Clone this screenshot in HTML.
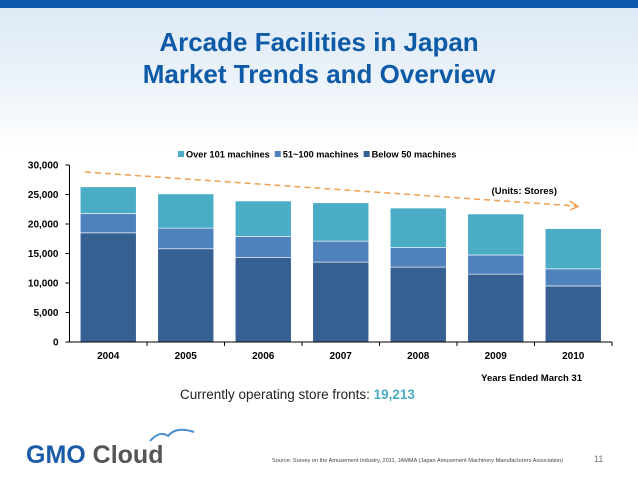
<!DOCTYPE html>
<html><head><meta charset="utf-8"><style>
body{margin:0;width:638px;height:479px;overflow:hidden;font-family:"Liberation Sans",sans-serif;background:#fff;position:relative}
#bg{position:absolute;left:0;top:0;width:638px;height:150px;background:linear-gradient(180deg,#dbe8f5 0%,#eef4fa 60%,#fff 100%)}
#band{position:absolute;left:0;top:0;width:638px;height:8px;background:#0b5aab}
#title{position:absolute;left:0;width:638px;top:26px;text-align:center;color:#0d5aa7;font-weight:bold;font-size:26px;line-height:32px}
svg{position:absolute;left:0;top:0}
</style></head><body>
<div id="bg"></div>
<div id="band"></div>
<div id="title">Arcade Facilities in Japan<br>Market Trends and Overview</div>
<svg id="chart" width="638" height="479"></svg>
<script>
const categories=["2004","2005","2006","2007","2008","2009","2010"];
const below50=[18500,15800,14350,13550,12700,11500,9500];
const mid51to100=[3300,3500,3550,3550,3300,3250,2900];
const over101=[4500,5800,6000,6500,6700,6950,6813];
const yTicks=[0,5000,10000,15000,20000,25000,30000];
const seriesNames=["Over 101 machines","51~100 machines","Below 50 machines"];
const colors=["#4bacc6","#4f81bd","#366092"];
const ns="http://www.w3.org/2000/svg";
const svg=document.getElementById('chart');
const x0=69.5,x1=612,y0=342,y1=165,yMax=30000;
const bw=(x1-x0)/categories.length;
const barW=56;
const y=v=>y0-(v/yMax)*(y0-y1);
const xc=i=>x0+bw*(i+0.5);
function mk(t,a){const e=document.createElementNS(ns,t);for(const k in a)e.setAttribute(k,a[k]);svg.appendChild(e);return e;}
let e;
yTicks.forEach(t=>{
 e=mk('text',{x:x0-11,y:y(t)+3.5,'text-anchor':'end','font-size':'10','font-weight':'bold',fill:'#000'});e.textContent=t.toLocaleString('en-US');
 
 
 e=mk('line',{x1:x0-4,x2:x0,y1:y(t),y2:y(t),stroke:'#000'});
 
 
});
categories.forEach((c,i)=>{
 const segs=[[0,below50[i],colors[2],'below-50'],[below50[i],below50[i]+mid51to100[i],colors[1],'51-100'],[below50[i]+mid51to100[i],below50[i]+mid51to100[i]+over101[i],colors[0],'over-101']];
 segs.forEach(s=>{
  e=mk('rect',{x:xc(i)-barW/2,width:barW,y:y(s[1]),height:y(s[0])-y(s[1]),fill:s[2],stroke:'#fff','stroke-width':'0.6'});
  
  
 });
 e=mk('text',{x:xc(i),y:359,'text-anchor':'middle','font-size':'10','font-weight':'bold'});e.textContent=c;
 
 
 e=mk('line',{x1:x0+bw*(i+1),x2:x0+bw*(i+1),y1:y0,y2:y0+4,stroke:'#000'});
 
 
});
e=mk('line',{x1:x0,x2:x0,y1:y1,y2:y0,stroke:'#000'});


e=mk('line',{x1:x0,x2:x1,y1:y0,y2:y0,stroke:'#000'});


e=mk('line',{x1:85,y1:172,x2:576,y2:206,stroke:'#f0a050','stroke-width':'1.5','stroke-dasharray':'6,4'});


e=mk('polyline',{points:'570,201 578,206.5 570,210',fill:'none',stroke:'#f0a050','stroke-width':'1.5'});


let lx=178;
seriesNames.forEach((n,i)=>{
 e=mk('rect',{x:lx,y:151,width:6,height:6,fill:colors[i]});
 
 
 e=mk('text',{x:lx+8,y:157.5,'font-size':'9.2','font-weight':'bold'});e.textContent=n;
 
 
 lx+=8+e.getComputedTextLength()+5;
});
e=mk('text',{x:557,y:194,'text-anchor':'end','font-size':'9.5','font-weight':'bold'});e.textContent='(Units: Stores)';


e=mk('text',{x:582,y:381,'text-anchor':'end','font-size':'9.5','font-weight':'bold'});e.textContent='Years Ended March 31';


e=mk('text',{x:180,y:399,'font-size':'13.5',fill:'#222'});e.innerHTML='Currently operating store fronts: <tspan font-weight="bold" fill="#4bacc6">19,213</tspan>';


e=mk('text',{x:26,y:463,'font-size':'25','font-weight':'bold',fill:'#1a5ca8'});e.innerHTML='GMO<tspan fill="#555"> Cloud</tspan>';


e=mk('path',{d:'M150 441 Q160 430 168 436 Q176 426 194 432',fill:'none',stroke:'#4a8cd0','stroke-width':'2'});


e=mk('text',{x:272,y:462,'font-size':'5.6',fill:'#444'});e.textContent='Source: Survey on the Amusement Industry, 2011, JAMMA (Japan Amusement Machinery Manufacturers Association)';


e=mk('text',{x:594,y:462,'font-size':'9',fill:'#777'});e.textContent='11';


</script>
</body></html>
